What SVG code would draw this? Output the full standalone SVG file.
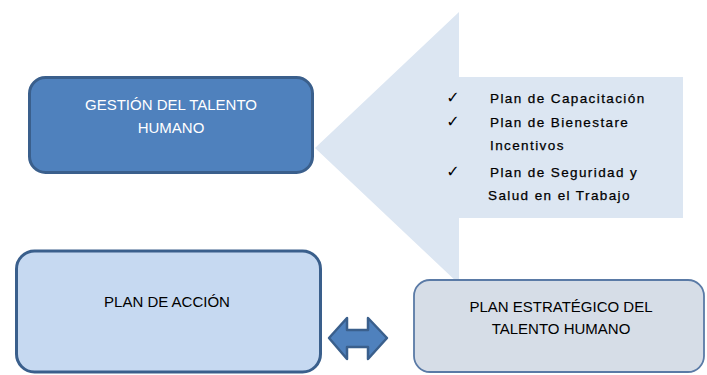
<svg xmlns="http://www.w3.org/2000/svg" width="707" height="375" viewBox="0 0 707 375">
<style>
.t{font-family:"Liberation Sans",Arial,sans-serif;font-size:15px;text-anchor:middle}
.l{font-family:"Liberation Sans",Arial,sans-serif;font-size:13.5px;fill:#000000;letter-spacing:1.4px;stroke:#000000;stroke-width:0.25}
.c{font-family:"DejaVu Sans",sans-serif;font-size:16px;fill:#000000;text-anchor:middle;font-weight:bold}
</style>
<rect width="707" height="375" fill="#ffffff"/>
<g id="callout">
<path d="M459,12 L459,77 L683,77 L683,218 L459,218 L459,284 L315,148 Z" fill="#dce6f2"/>
<text class="c" x="453" y="103">✓</text>
<text class="l" x="490" y="103">Plan de Capacitación</text>
<text class="c" x="453" y="127">✓</text>
<text class="l" x="490" y="127">Plan de Bienestare</text>
<text class="l" x="490" y="150">Incentivos</text>
<text class="c" x="453" y="177">✓</text>
<text class="l" x="490" y="177">Plan de Seguridad y</text>
<text class="l" x="488" y="200">Salud en el Trabajo</text>
</g>
<g id="gestion">
<rect x="29.5" y="77.5" width="283" height="95" rx="16" fill="#4f81bd" stroke="#3a5f8c" stroke-width="3"/>
<text class="t" x="171" y="110" fill="#ffffff">GESTIÓN DEL TALENTO</text>
<text class="t" x="171" y="133" fill="#ffffff">HUMANO</text>
</g>
<g id="plan-accion">
<rect x="16.5" y="251" width="304" height="121" rx="18" fill="#c6d9f1" stroke="#3a5f8c" stroke-width="3"/>
<text class="t" x="167" y="307" fill="#000000">PLAN DE ACCIÓN</text>
</g>
<g id="plan-estrategico">
<rect x="414" y="280" width="290" height="92" rx="16" fill="#d6dde7" stroke="#5a7aa6" stroke-width="1.8"/>
<text class="t" x="561" y="312" fill="#000000">PLAN ESTRATÉGICO DEL</text>
<text class="t" x="561" y="334" fill="#000000">TALENTO HUMANO</text>
</g>
<g id="connectors">
<path d="M329,338 L347,318 L347,330 L368,330 L368,318 L387,338 L368,359 L368,347 L347,347 L347,359 Z" fill="#4f81bd" stroke="#3a5f8c" stroke-width="2.5" stroke-linejoin="round"/>
</g>
</svg>
